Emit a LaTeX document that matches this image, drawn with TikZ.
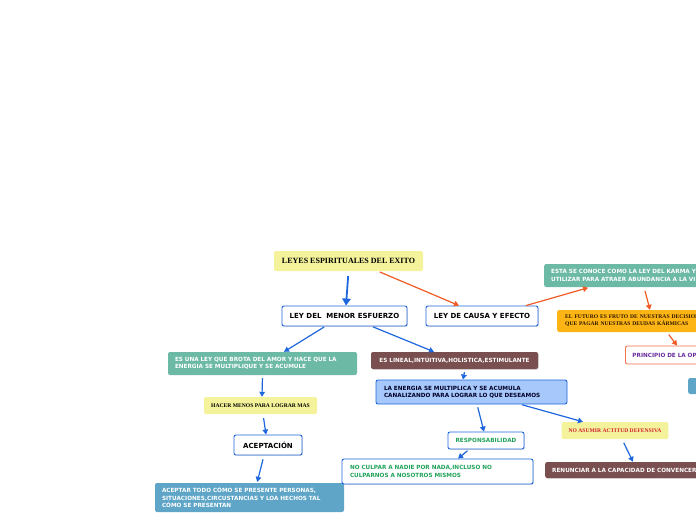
\documentclass[tikz,border=0pt]{standalone}
\usepackage{fontspec}
\setmainfont{DejaVu Sans}
\newfontfamily\timesfont{Liberation Serif}
\usetikzlibrary{arrows.meta,shadows}
\definecolor{cyellow}{HTML}{F4F29B}
\definecolor{cteal}{HTML}{6CB9A5}
\definecolor{cbrown}{HTML}{7A4F4F}
\definecolor{clight}{HTML}{A7C8FA}
\definecolor{cblue}{HTML}{1D66DE}
\definecolor{csky}{HTML}{5EA5C7}
\definecolor{cgold}{HTML}{FDB515}
\definecolor{corange}{HTML}{F05A24}
\definecolor{cgreen}{HTML}{1FA35A}
\definecolor{cred}{HTML}{D0202F}
\definecolor{cpurple}{HTML}{6A2FA0}
\definecolor{csalmon}{HTML}{F2704A}
\begin{document}
\begin{tikzpicture}[x=1pt,y=-1pt,
    box/.style={rounded corners=2pt,inner xsep=7pt,inner ysep=0pt},
    shade/.style={drop shadow={shadow xshift=0.8pt,shadow yshift=-0.8pt,opacity=0.25}},
    bigtxt/.style={font=\bfseries\fontsize{7}{8}\selectfont},
    smalltxt/.style={font=\bfseries\fontsize{5.7}{7.2}\selectfont},
    serifsmall/.style={font=\timesfont\bfseries\fontsize{5.6}{7}\selectfont},
    yellowbox/.style={box,fill=cyellow,serifsmall},
    whitebox/.style={box,draw=cblue,line width=0.9pt,fill=white,shade,bigtxt},
    tealbox/.style={box,fill=cteal,text=white,smalltxt,align=left},
    brownbox/.style={box,fill=cbrown,text=white,shade,smalltxt},
    blink/.style={draw=cblue,line width=1.2pt,-{Triangle[length=5pt,width=5.5pt]}},
    olink/.style={draw=corange,line width=1.2pt,-{Triangle[length=5pt,width=5.5pt]}}]
  \useasboundingbox (0,0) rectangle (696,520);
  % main topic
  \node[yellowbox,minimum width=149pt,minimum height=20pt,font=\timesfont\bfseries\fontsize{8}{9}\selectfont] (title) at (348.5,261) {LEYES ESPIRITUALES DEL EXITO};
  \node[whitebox,minimum width=125pt,minimum height=20pt] (menor) at (344.5,316) {LEY DEL\ \ MENOR ESFUERZO};
  \node[whitebox,minimum width=112pt,minimum height=20pt] (causa) at (482,316) {LEY DE CAUSA Y EFECTO};
  % left branch
  \node[tealbox,minimum width=189pt,minimum height=23pt,text width=175pt] (amor) at (262.5,363.5) {ES UNA LEY QUE BROTA DEL AMOR Y HACE QUE LA\\ENERGIA SE MULTIPLIQUE Y SE ACUMULE};
  \node[brownbox,minimum width=167pt,minimum height=17pt] (lineal) at (454.5,360.5) {ES LINEAL,INTÚITIVA,HOLISTICA,ESTIMULANTE};
  \node[box,fill=clight,draw=cblue,line width=0.9pt,smalltxt,text=black!85!blue,align=left,minimum width=191pt,minimum height=24pt,text width=175pt] (energia) at (471.5,392) {LA ENERGIA SE MULTIPLICA Y SE ACUMULA\\CANALIZANDO PARA LOGRAR LO QUE DESEAMOS};
  \node[yellowbox,minimum width=113pt,minimum height=17pt] (menos) at (260.5,405.5) {HACER MENOS PARA LOGRAR MAS};
  \node[whitebox,minimum width=68pt,minimum height=20pt] (acepta) at (268,445) {ACEPTACIÓN};
  \node[tealbox,fill=csky,minimum width=189pt,minimum height=29pt,text width=175pt] (todo) at (249.5,497.5) {ACEPTAR TODO CÓMO SE PRESENTE PERSONAS,\\SITUACIONES,CIRCUSTANCIAS Y LOA HECHOS TAL\\CÓMO SE PRESENTAN};
  \node[whitebox,smalltxt,text=cgreen,minimum width=76pt,minimum height=17pt] (resp) at (486,440.5) {RESPONSABILIDAD};
  \node[whitebox,smalltxt,text=cgreen,align=left,minimum width=191pt,minimum height=25pt,text width=175pt] (culpa) at (437.5,471.5) {NO CULPAR A NADIE POR NADA,INCLUSO NO\\CULPARNOS A NOSOTROS MISMOS};
  \node[yellowbox,text=cred,minimum width=106pt,minimum height=17pt] (defensa) at (615,430.5) {NO ASUMIR ACTITUD DEFENSIVA};
  \node[brownbox,anchor=west,align=left,minimum width=230pt,minimum height=16pt,text width=216pt] (renuncia) at (545,470) {RENUNCIAR A LA CAPACIDAD DE CONVENCER O PERSUADIR};
  % right branch
  \node[tealbox,anchor=west,minimum width=230pt,minimum height=23pt,text width=216pt] (karma) at (544,275.5) {ESTA SE CONOCE COMO LA LEY DEL KARMA Y SE PUEDE\\UTILIZAR PARA ATRAER ABUNDANCIA A LA VIDA};
  \node[yellowbox,fill=cgold,text=black!70!orange!60!black,align=left,anchor=west,minimum width=230pt,minimum height=22pt,text width=214pt,inner xsep=8pt] (futuro) at (557,321) {EL FUTURO ES FRUTO DE NUESTRAS DECISIONES Y\\QUE PAGAR NUESTRAS DEUDAS KÁRMICAS};
  \node[box,draw=csalmon,line width=0.9pt,fill=white,text=cpurple,smalltxt,align=left,anchor=west,minimum width=150pt,minimum height=18pt,text width=136pt] (principio) at (625,355) {PRINCIPIO DE LA OPORTUNIDAD};
  \node[box,fill=csky,anchor=west,minimum width=80pt,minimum height=16pt] (extra) at (688,386) {};
  % connectors
  \draw[draw=cblue,line width=1.8pt,-{Triangle[length=7pt,width=8.5pt]},shorten <=5pt] (title.south) -- ([xshift=1.5pt]menor.north);
  \draw[olink,shorten <=2pt] ([xshift=29.5pt]title.south) -- ([xshift=-23pt]causa.north);
  \draw[blink,shorten <=1pt] ([xshift=-19.5pt]menor.south) -- ([xshift=21.5pt]amor.north);
  \draw[blink,shorten <=1pt] ([xshift=27.5pt]menor.south) -- ([xshift=-20.5pt]lineal.north);
  \draw[blink,shorten <=3pt] ([xshift=10.5pt]lineal.south) -- ([xshift=-8.5pt]energia.north);
  \draw[blink,shorten <=3pt] (amor.south) -- ([xshift=1.5pt]menos.north);
  \draw[blink,shorten <=4pt] ([xshift=2.5pt]menos.south) -- ([xshift=-2pt]acepta.north);
  \draw[blink,shorten <=4pt,shorten >=1pt] ([xshift=-4pt]acepta.south) -- ([xshift=7.5pt]todo.north);
  \draw[blink,shorten <=3pt] ([xshift=5.5pt]energia.south) -- ([xshift=-2pt]resp.north);
  \draw[blink,shorten <=1pt] ([xshift=49.5pt]energia.south) -- ([xshift=-32pt]defensa.north);
  \draw[blink,shorten <=2pt] ([xshift=-17pt]resp.south) -- ([xshift=20.5pt]culpa.north);
  \draw[blink,shorten <=4pt] ([xshift=7pt]defensa.south) -- ([xshift=88pt]renuncia.north west);
  \draw[olink,shorten >=2pt] ([xshift=44pt]causa.north) -- ([xshift=46pt]karma.south west);
  \draw[olink,shorten <=4pt] ([xshift=100pt]karma.south west) -- ([xshift=93pt]futuro.north west);
  \draw[olink,shorten <=3pt] ([xshift=110pt]futuro.south west) -- ([xshift=52pt]principio.north west);
\end{tikzpicture}
\end{document}
